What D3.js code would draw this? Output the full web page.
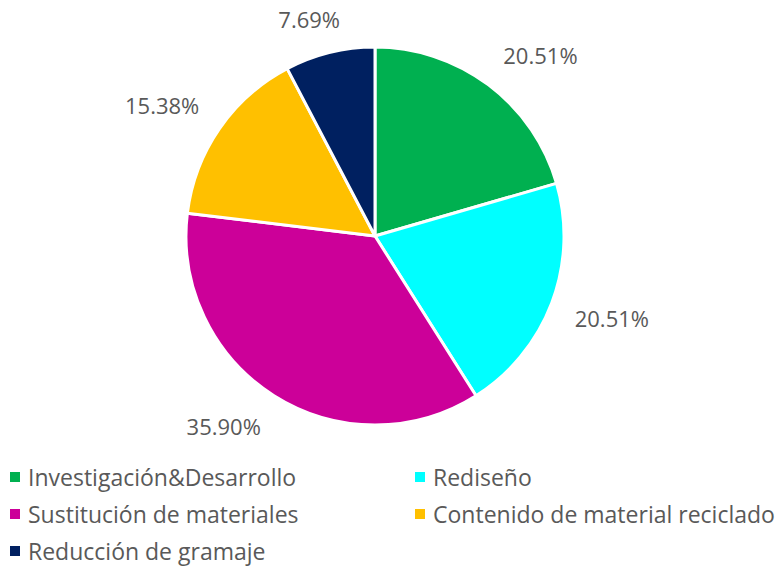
<!DOCTYPE html>
<html>
<head>
<meta charset="utf-8">
<script src="https://cdn.jsdelivr.net/npm/d3@7"></script>
<style>
  body { margin: 0; background: #fff; }
  text { font-family: "Open Sans", sans-serif; fill: #595959; }
</style>
</head>
<body>
<svg id="chart"></svg>
<script>
// data
var categories = ["Investigación&Desarrollo", "Rediseño", "Sustitución de materiales", "Contenido de material reciclado", "Reducción de gramaje"];
var values = [20.51, 20.51, 35.90, 15.38, 7.69];
var colors = ["#00B050", "#00FFFF", "#CC0099", "#FFC000", "#002060"];

var width = 782,
    height = 568;

var cx = 375, cy = 236, radius = 189;

var svg = d3.select("#chart")
    .attr("width", width)
    .attr("height", height);

var pie = d3.pie().sort(null).value(function(d) { return d; });
var arc = d3.arc().innerRadius(0).outerRadius(radius);
var color = d3.scaleOrdinal().domain(categories).range(colors);

var arcs = pie(values);

var g = svg.append("g").attr("transform", "translate(" + cx + "," + cy + ")");

g.selectAll(".slice")
    .data(arcs)
  .enter().append("path")
    .attr("class", "slice")
    .attr("d", arc)
    .attr("fill", function(d, i) { return color(categories[i]); })
    .attr("stroke", "#fff")
    .attr("stroke-width", 3)
    .attr("stroke-linejoin", "round");

// labels outside the pie, box pushed away from the edge along the mid angle
var labelR = radius * 1.13;
var clamp = function(v) { return Math.max(-1, Math.min(1, v)); };
g.selectAll(".lbl")
    .data(arcs)
  .enter().append("text")
    .attr("class", "lbl")
    .attr("font-size", "22px")
    .attr("text-anchor", "middle")
    .attr("dominant-baseline", "central")
    .text(function(d) { return d.data.toFixed(2) + "%"; })
    .each(function(d) {
      var a = (d.startAngle + d.endAngle) / 2;
      var bb = this.getBBox();
      var x = labelR * Math.sin(a) + bb.width / 2 * clamp(Math.sin(a) / 0.5);
      var y = -labelR * Math.cos(a) - 10 * clamp(Math.cos(a) / 0.6);
      d3.select(this).attr("x", x).attr("y", y);
    });

// legend, two columns
var legend = svg.append("g").attr("class", "legend");
var item = legend.selectAll(".item")
    .data(categories)
  .enter().append("g")
    .attr("class", "item")
    .attr("transform", function(d, i) {
      return "translate(" + (i % 2 ? 415 : 10) + "," + (477 + Math.floor(i / 2) * 37) + ")";
    });

item.append("rect")
    .attr("x", 0).attr("y", -5)
    .attr("width", 10).attr("height", 10)
    .attr("fill", function(d) { return color(d); });

item.append("text")
    .attr("x", 18)
    .attr("dominant-baseline", "central")
    .attr("font-size", "23px")
    .text(function(d) { return d; });
</script>
</body>
</html>
